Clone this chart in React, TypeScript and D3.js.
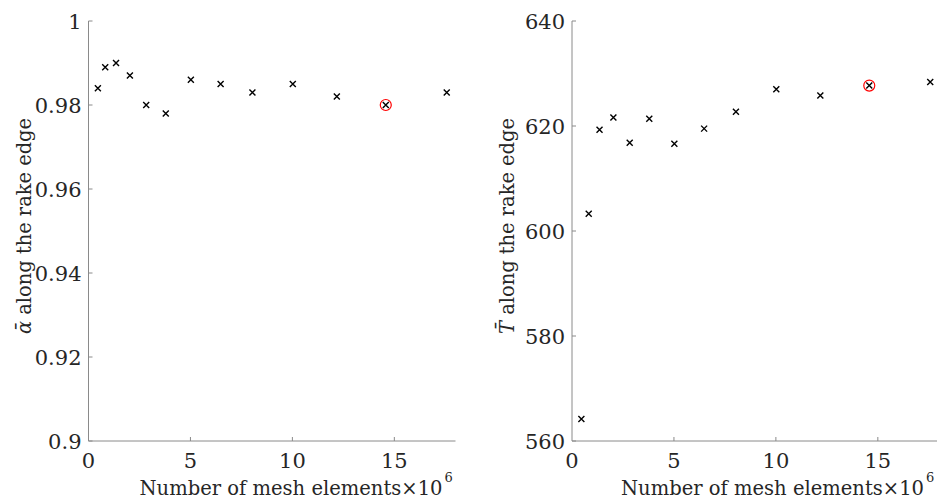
import React from "react";
import * as d3 from "d3";

const meshElements = [0.46, 0.82, 1.35, 2.03, 2.83, 3.79, 5.02, 6.48, 8.04, 10.02, 12.18, 14.58, 17.57];
const alphaValues = [0.984, 0.989, 0.990, 0.987, 0.980, 0.978, 0.986, 0.985, 0.983, 0.985, 0.982, 0.980, 0.983];
const tempValues = [564.2, 603.3, 619.3, 621.6, 616.8, 621.4, 616.6, 619.5, 622.7, 627.0, 625.8, 627.7, 628.4];
const selectedIndex = 11;
const xTicks = [0, 5, 10, 15];
const alphaTicks = [0.9, 0.92, 0.94, 0.96, 0.98, 1];
const alphaTickLabels = ["0.9", "0.92", "0.94", "0.96", "0.98", "1"];
const tempTicks = [560, 580, 600, 620, 640];
const tempTickLabels = ["560", "580", "600", "620", "640"];

const FONT = "DejaVu Serif";
const AXIS = "#8a8a8a";
const TEXT = "#262626";

type PanelProps = {
  left: number;
  values: number[];
  domain: [number, number];
  ticks: number[];
  tickLabels: string[];
  symbol: string;
};

function Panel({ left, values, domain, ticks, tickLabels, symbol }: PanelProps) {
  const top = 21;
  const bottom = 441;
  const x = d3.scaleLinear().domain([0, 18]).range([left, left + 367]);
  const y = d3.scaleLinear().domain(domain).range([bottom, top]);
  const s = 3;
  const font = { fontFamily: FONT };
  const labelEnd = Math.min(left + 354, 924);
  return (
    <g>
      <line x1={left} x2={Math.min(x(18), 937)} y1={bottom} y2={bottom} stroke={AXIS} strokeWidth={1} />
      <line x1={left} x2={left} y1={top} y2={bottom} stroke={AXIS} strokeWidth={1} />
      {xTicks.map((t) => (
        <g key={"x" + t}>
          {t > 0 && <line x1={x(t)} x2={x(t)} y1={bottom} y2={bottom - 4} stroke={AXIS} />}
          <text x={x(t)} y={bottom + 27} textAnchor="middle" style={font} fontSize={21} fill={TEXT}>
            {t}
          </text>
        </g>
      ))}
      {ticks.map((t, i) => (
        <g key={"y" + t}>
          <line x1={left} x2={left + 4} y1={y(t)} y2={y(t)} stroke={AXIS} />
          <text x={left - 7} y={y(t) + 7.5} textAnchor="end" style={font} fontSize={21} fill={TEXT}>
            {tickLabels[i]}
          </text>
        </g>
      ))}
      <text x={labelEnd} y={495} textAnchor="end" style={font} fontSize={20} fill={TEXT} textLength={303} lengthAdjust="spacingAndGlyphs">
        Number of mesh elements×10
      </text>
      <text x={labelEnd + 2} y={482} textAnchor="start" style={font} fontSize={13} fill={TEXT}>
        6
      </text>
      <text
        transform={`translate(${left - 58},226) rotate(-90)`}
        textAnchor="middle"
        style={font}
        fontSize={21}
        fill={TEXT}
        textLength={216}
        lengthAdjust="spacingAndGlyphs"
      >
        <tspan fontStyle="italic">{symbol + "\u0304"}</tspan> along the rake edge
      </text>
      {meshElements.map((m, i) => {
        const cx = x(m);
        const cy = y(values[i]);
        return (
          <g key={"p" + i}>
            <path d={`M${cx - s},${cy - s}L${cx + s},${cy + s}M${cx - s},${cy + s}L${cx + s},${cy - s}`} stroke="#000" strokeWidth={1.4} />
            {i === selectedIndex && <circle cx={cx} cy={cy} r={5.5} fill="none" stroke="#ff0000" strokeWidth={1.2} />}
          </g>
        );
      })}
    </g>
  );
}

export default function App() {
  return (
    <svg width={937} height={503} style={{ position: "absolute", left: 0, top: 0, background: "#fff" }}>
      <rect width={937} height={503} fill="#fff" />
      <Panel left={88.5} values={alphaValues} domain={[0.9, 1]} ticks={alphaTicks} tickLabels={alphaTickLabels} symbol="α" />
      <Panel left={572} values={tempValues} domain={[560, 640]} ticks={tempTicks} tickLabels={tempTickLabels} symbol="T" />
    </svg>
  );
}
